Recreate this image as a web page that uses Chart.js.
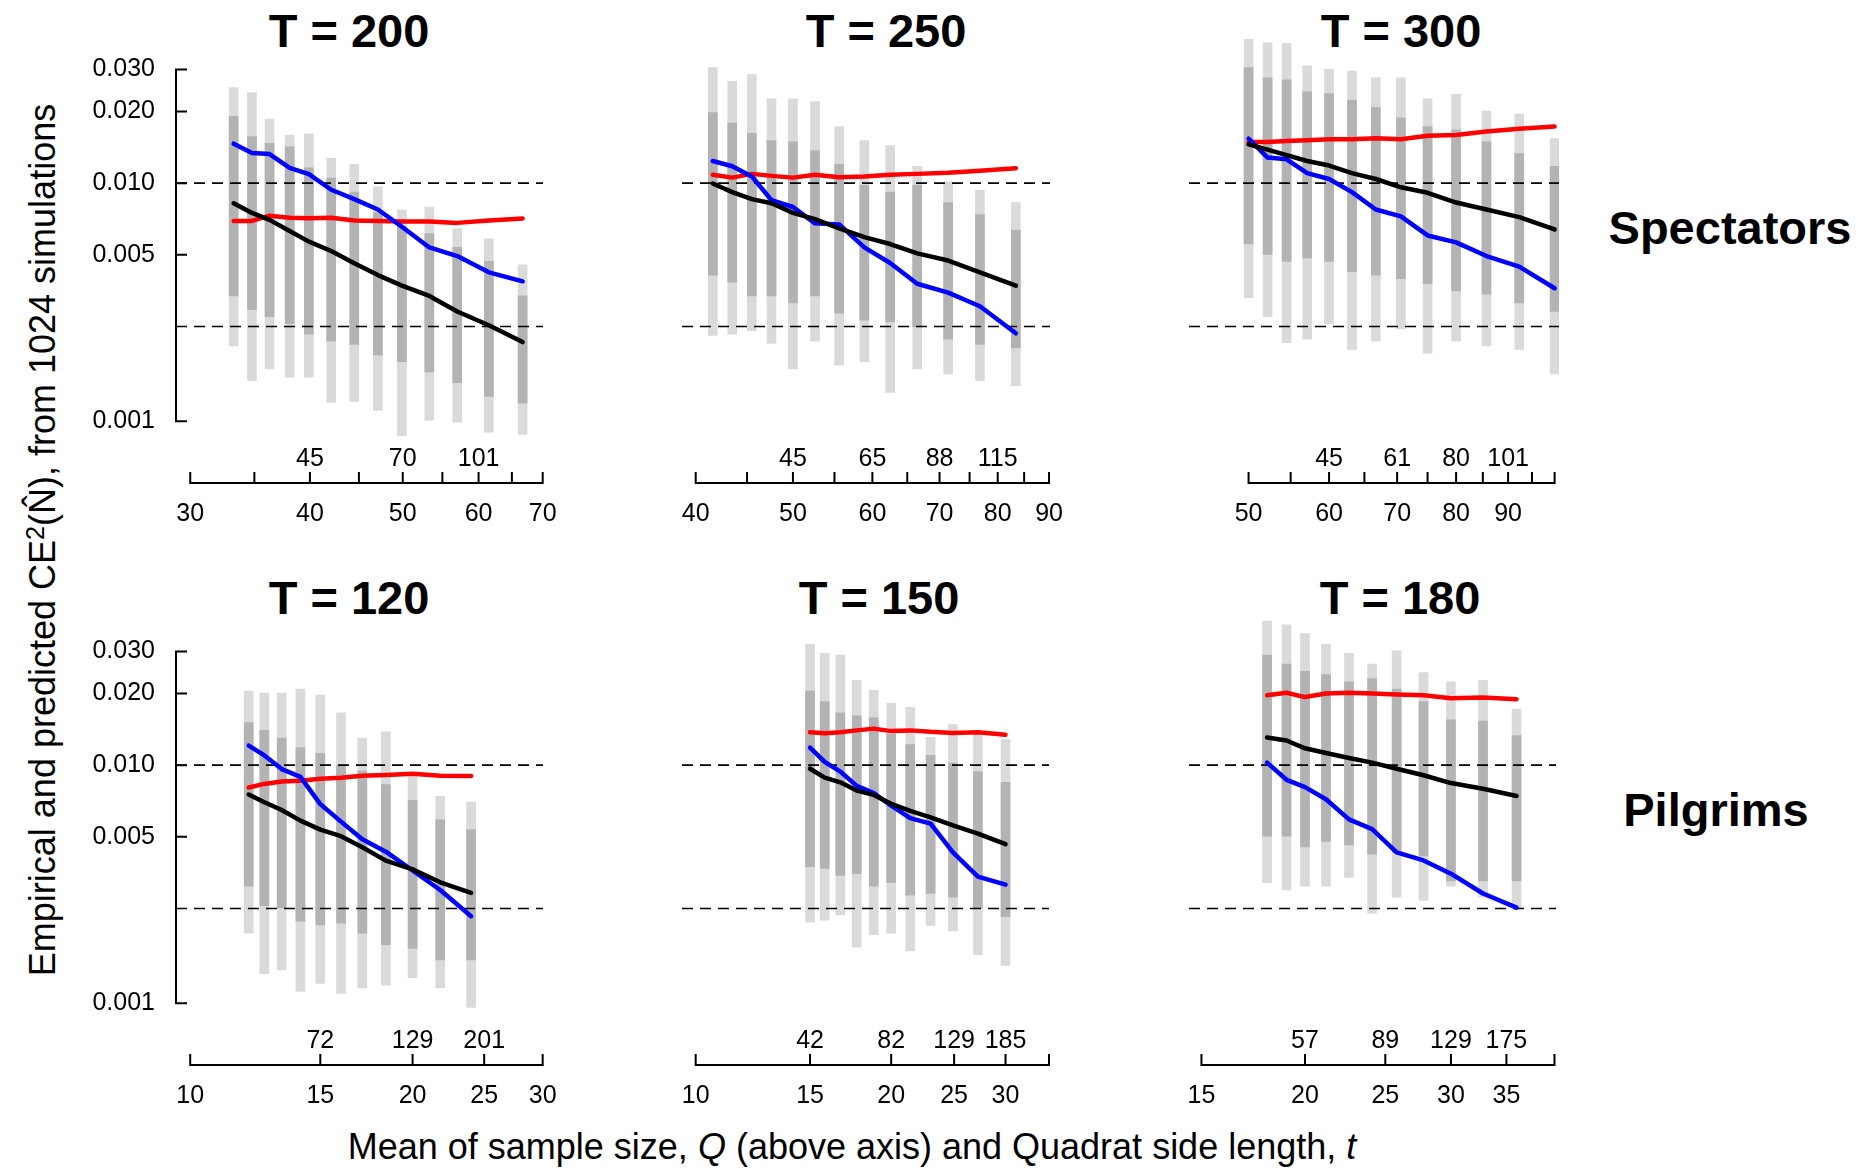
<!DOCTYPE html>
<html>
<head>
<meta charset="utf-8">
<title>Empirical and predicted CE2 - Spectators and Pilgrims</title>
<script src="https://cdn.jsdelivr.net/npm/chart.js@4.4.1/dist/chart.umd.min.js"></script>
<style>
  body { margin: 0; background: #fff; }
  #fig { position: relative; width: 1869px; height: 1170px; overflow: hidden;
         font-family: "Liberation Sans", Arial, sans-serif; color: #000; background: #fff; }
  #fig canvas { position: absolute; }
  .lbl { position: absolute; white-space: nowrap; line-height: 1; transform: translate(-50%, -50%); }
  .ttl { font-weight: bold; font-size: 47px; }
  .axt { font-size: 36px; }
  .sup { font-size: 0.7em; position: relative; top: -0.45em; }
</style>
</head>
<body>
<div id="fig">
  <div class="lbl ttl" style="left:349px; top:30px">T = 200</div>
  <div class="lbl ttl" style="left:886px; top:30px">T = 250</div>
  <div class="lbl ttl" style="left:1401px; top:30px">T = 300</div>
  <div class="lbl ttl" style="left:349px; top:597px">T = 120</div>
  <div class="lbl ttl" style="left:879px; top:597px">T = 150</div>
  <div class="lbl ttl" style="left:1400px; top:597px">T = 180</div>
  <div class="lbl ttl" style="left:1730px; top:227px">Spectators</div>
  <div class="lbl ttl" style="left:1716px; top:809px">Pilgrims</div>
  <div class="lbl axt" style="left:852px; top:1147px">Mean of sample size, <i>Q</i> (above axis) and Quadrat side length, <i>t</i></div>
  <div class="lbl axt" style="left:43px; top:540px; transform: translate(-50%, -50%) rotate(-90deg)">Empirical and predicted CE<span class="sup">2</span>(N&#770;), from 1024 simulations</div>
</div>

<script>
// ---- shared axis values ----
const yTicks = [0.001, 0.005, 0.010, 0.020, 0.030];
const yLim = [0.00055, 0.044];
const refLevels = [0.0025, 0.010];

// ---- T = 200 (Spectators) ----
const t200 = [33.3, 34.8, 36.3, 38.1, 39.9, 42.1, 44.5, 47.1, 49.9, 53.3, 57.0, 61.5, 66.7];
const blue200 = [0.01465, 0.01338, 0.01325, 0.01159, 0.01091, 0.00938, 0.00857, 0.00775, 0.00656, 0.00537, 0.00494, 0.00422, 0.00387];
const red200 = [0.00694, 0.00694, 0.0073, 0.00716, 0.00713, 0.00716, 0.00697, 0.00694, 0.0069, 0.0069, 0.00681, 0.00697, 0.00711];
const black200 = [0.00823, 0.0075, 0.00701, 0.0063, 0.00568, 0.00519, 0.00461, 0.00411, 0.00371, 0.00336, 0.00289, 0.00253, 0.00215];
const extHi200 = [0.0252, 0.0240, 0.0186, 0.0159, 0.0161, 0.0127, 0.0120, 0.00964, 0.0077, 0.00794, 0.00645, 0.00583, 0.00454];
const coreHi200 = [0.0191, 0.0157, 0.0147, 0.0142, 0.0116, 0.0105, 0.00917, 0.0075, 0.00656, 0.00614, 0.00537, 0.00469, 0.00336];
const coreLo200 = [0.00336, 0.00294, 0.00275, 0.00257, 0.00232, 0.00217, 0.0021, 0.0019, 0.00178, 0.00161, 0.00145, 0.00127, 0.00119];
const extLo200 = [0.00207, 0.00148, 0.00166, 0.00153, 0.00153, 0.0012, 0.00121, 0.00111, 0.00087, 0.00101, 0.00099, 0.0009, 0.00088];
const xLim200 = [28.99, 70.05];
const xTicks200 = [30, 35, 40, 45, 50, 55, 60, 65, 70];
const xLabels200 = [30, 40, 50, 60, 70];
const qAt200 = [40, 50, 60];
const q200 = ['45', '70', '101'];

// ---- T = 250 (Spectators) ----
const t250 = [41.6, 43.5, 45.5, 47.6, 50.0, 52.6, 55.6, 58.9, 62.5, 66.5, 71.4, 76.8, 83.4];
const blue250 = [0.01239, 0.01178, 0.01066, 0.00849, 0.00794, 0.00678, 0.00671, 0.00537, 0.00462, 0.00378, 0.00347, 0.00304, 0.00234];
const red250 = [0.01084, 0.01055, 0.01094, 0.01073, 0.01055, 0.01084, 0.01059, 0.01066, 0.01084, 0.01094, 0.01106, 0.01128, 0.01155];
const black250 = [0.00997, 0.00917, 0.00857, 0.00823, 0.0075, 0.00706, 0.00645, 0.00593, 0.00555, 0.00507, 0.00473, 0.00422, 0.00371];
const extHi250 = [0.0306, 0.0268, 0.0286, 0.0226, 0.0226, 0.0220, 0.0173, 0.0151, 0.0144, 0.01178, 0.01013, 0.00932, 0.00829];
const coreHi250 = [0.0198, 0.0179, 0.0162, 0.0151, 0.0149, 0.0137, 0.0120, 0.0098, 0.00917, 0.0098, 0.00829, 0.00738, 0.00635];
const coreLo250 = [0.00411, 0.00384, 0.00336, 0.00336, 0.00314, 0.00336, 0.00284, 0.00266, 0.00261, 0.00249, 0.00221, 0.0021, 0.00203];
const extLo250 = [0.00229, 0.00232, 0.0024, 0.00212, 0.00166, 0.00217, 0.00172, 0.00178, 0.00132, 0.00166, 0.00158, 0.00148, 0.00141];
const xLim250 = [38.76, 90.2];
const xTicks250 = [40, 45, 50, 55, 60, 65, 70, 75, 80, 85, 90];
const xLabels250 = [40, 50, 60, 70, 80, 90];
const qAt250 = [50, 60, 70, 80];
const q250 = ['45', '65', '88', '115'];

// ---- T = 300 (Spectators) ----
const t300 = [50.0, 52.2, 54.5, 57.1, 60.0, 63.2, 66.7, 70.6, 75.0, 80.0, 85.7, 92.3, 100.0];
const blue300 = [0.0154, 0.01281, 0.0126, 0.01102, 0.01041, 0.00917, 0.00775, 0.00725, 0.00603, 0.00564, 0.00494, 0.00446, 0.00362];
const red300 = [0.01489, 0.01489, 0.01504, 0.01514, 0.0153, 0.0153, 0.01545, 0.0153, 0.01582, 0.01592, 0.01647, 0.01691, 0.01731];
const black300 = [0.01455, 0.01384, 0.01311, 0.01239, 0.01186, 0.01102, 0.01041, 0.00961, 0.00911, 0.00829, 0.00775, 0.0072, 0.00639];
const extHi300 = [0.0402, 0.0389, 0.0387, 0.0311, 0.0301, 0.0296, 0.0277, 0.0277, 0.0226, 0.0236, 0.0201, 0.0195, 0.0154];
const coreHi300 = [0.0306, 0.0277, 0.0272, 0.0242, 0.0238, 0.0223, 0.0208, 0.0188, 0.0173, 0.0167, 0.0149, 0.0133, 0.01178];
const coreLo300 = [0.00555, 0.00502, 0.00469, 0.00485, 0.00469, 0.00425, 0.00411, 0.00397, 0.00378, 0.00353, 0.00342, 0.00314, 0.00289];
const extLo300 = [0.0033, 0.00275, 0.00214, 0.00221, 0.00257, 0.002, 0.00217, 0.00244, 0.00193, 0.00217, 0.00207, 0.002, 0.00158];
const xLim300 = [43.69, 101.0];
const xTicks300 = [50, 55, 60, 65, 70, 75, 80, 85, 90, 95, 100];
const xLabels300 = [50, 60, 70, 80, 90];
const qAt300 = [60, 70, 80, 90];
const q300 = ['45', '61', '80', '101'];

// ---- T = 120 (Pilgrims) ----
const t120 = [12.0, 12.6, 13.3, 14.1, 15.0, 16.0, 17.1, 18.4, 20.0, 21.8, 24.0];
const blue120 = [0.01208, 0.01099, 0.00963, 0.00893, 0.00686, 0.00579, 0.00488, 0.00433, 0.00361, 0.00299, 0.00232];
const red120 = [0.00806, 0.00834, 0.00853, 0.0086, 0.00876, 0.00886, 0.00903, 0.0091, 0.0092, 0.00903, 0.009];
const black120 = [0.00753, 0.00699, 0.00648, 0.00585, 0.00536, 0.00503, 0.00452, 0.00397, 0.00365, 0.00322, 0.00291];
const extHi120 = [0.0205, 0.0201, 0.0201, 0.0209, 0.0197, 0.0166, 0.0130, 0.0138, 0.00893, 0.00739, 0.00699];
const coreHi120 = [0.0151, 0.0140, 0.0130, 0.01185, 0.0112, 0.0100, 0.00945, 0.00828, 0.00712, 0.0059, 0.00536];
const coreLo120 = [0.0031, 0.00257, 0.00252, 0.00221, 0.00213, 0.00217, 0.00197, 0.00176, 0.0017, 0.00152, 0.00152];
const extLo120 = [0.00197, 0.00133, 0.00138, 0.00112, 0.00121, 0.0011, 0.00116, 0.00119, 0.00128, 0.00116, 0.00096];
const xLim120 = [9.567, 30.03];
const xTicks120 = [10, 15, 20, 25, 30];
const xLabels120 = [10, 15, 20, 25, 30];
const qAt120 = [15, 20, 25];
const q120 = ['72', '129', '201'];

// ---- T = 150 (Pilgrims) ----
const t150 = [15.0, 15.8, 16.7, 17.7, 18.8, 20.0, 21.4, 23.0, 24.9, 27.2, 30.0];
const blue150 = [0.01185, 0.01032, 0.0094, 0.00818, 0.00763, 0.00676, 0.00599, 0.00568, 0.0043, 0.0034, 0.00315];
const red150 = [0.01376, 0.01361, 0.01376, 0.014, 0.01424, 0.0139, 0.014, 0.0138, 0.01366, 0.01376, 0.01343];
const black150 = [0.00966, 0.00886, 0.00847, 0.00782, 0.0075, 0.00688, 0.00642, 0.00603, 0.00558, 0.00516, 0.00466];
const extHi150 = [0.0322, 0.0295, 0.0290, 0.0227, 0.0206, 0.0182, 0.0175, 0.0131, 0.0148, 0.0135, 0.0128];
const coreHi150 = [0.0205, 0.0185, 0.0166, 0.0161, 0.0158, 0.0135, 0.0122, 0.0110, 0.0102, 0.0094, 0.00847];
const coreLo150 = [0.00375, 0.00368, 0.00344, 0.0035, 0.0031, 0.00321, 0.00284, 0.00289, 0.00279, 0.00252, 0.00231];
const extLo150 = [0.00219, 0.00223, 0.00235, 0.00172, 0.00194, 0.00197, 0.00166, 0.00212, 0.00201, 0.0016, 0.00144];
const xLim150 = [9.526, 35.0];
const xTicks150 = [10, 15, 20, 25, 30, 35];
const xLabels150 = [10, 15, 20, 25, 30];
const qAt150 = [15, 20, 25, 30];
const q150 = ['42', '82', '129', '185'];

// ---- T = 180 (Pilgrims) ----
const t180 = [18.0, 19.0, 20.0, 21.2, 22.6, 24.1, 25.8, 27.8, 30.0, 32.8, 36.0];
const blue180 = [0.01025, 0.00868, 0.00809, 0.00719, 0.00592, 0.00539, 0.0043, 0.00398, 0.0035, 0.00289, 0.00252];
const red180 = [0.01966, 0.02015, 0.01932, 0.02001, 0.02015, 0.02001, 0.0198, 0.01966, 0.01912, 0.01926, 0.01893];
const black180 = [0.01306, 0.0127, 0.01177, 0.01125, 0.01072, 0.01025, 0.00966, 0.00907, 0.00841, 0.00796, 0.00742];
const extHi180 = [0.0403, 0.0389, 0.0357, 0.0322, 0.0295, 0.0266, 0.0302, 0.0245, 0.0224, 0.0227, 0.0172];
const coreHi180 = [0.0290, 0.0266, 0.0248, 0.0240, 0.0224, 0.0231, 0.0209, 0.0185, 0.0155, 0.0153, 0.0133];
const coreLo180 = [0.00503, 0.00503, 0.00453, 0.00478, 0.00462, 0.00423, 0.0043, 0.00416, 0.00326, 0.00326, 0.00326];
const extLo180 = [0.00321, 0.00299, 0.0031, 0.0031, 0.00338, 0.00239, 0.00279, 0.0027, 0.0031, 0.00279, 0.00252];
const xLim180 = [14.49, 40.17];
const xTicks180 = [15, 20, 25, 30, 35, 40];
const xLabels180 = [15, 20, 25, 30, 35];
const qAt180 = [20, 25, 30, 35];
const q180 = ['57', '89', '129', '175'];

// plot region of each panel on the page: [left, right, top, bottom]
const boxes = {
  200: [176, 543, 30, 483],
  250: [682, 1050, 30, 483],
  300: [1189, 1559, 30, 483],
  120: [176, 543, 612, 1065],
  150: [682, 1049, 612, 1065],
  180: [1189, 1556, 612, 1065]
};

const panels = [
  { T: 200, t: t200, red: red200, blue: blue200, black: black200, extLo: extLo200, extHi: extHi200, coreLo: coreLo200, coreHi: coreHi200,
    xLim: xLim200, xTicks: xTicks200, xLabels: xLabels200, qAt: qAt200, q: q200, yAxis: true },
  { T: 250, t: t250, red: red250, blue: blue250, black: black250, extLo: extLo250, extHi: extHi250, coreLo: coreLo250, coreHi: coreHi250,
    xLim: xLim250, xTicks: xTicks250, xLabels: xLabels250, qAt: qAt250, q: q250, yAxis: false },
  { T: 300, t: t300, red: red300, blue: blue300, black: black300, extLo: extLo300, extHi: extHi300, coreLo: coreLo300, coreHi: coreHi300,
    xLim: xLim300, xTicks: xTicks300, xLabels: xLabels300, qAt: qAt300, q: q300, yAxis: false },
  { T: 120, t: t120, red: red120, blue: blue120, black: black120, extLo: extLo120, extHi: extHi120, coreLo: coreLo120, coreHi: coreHi120,
    xLim: xLim120, xTicks: xTicks120, xLabels: xLabels120, qAt: qAt120, q: q120, yAxis: true },
  { T: 150, t: t150, red: red150, blue: blue150, black: black150, extLo: extLo150, extHi: extHi150, coreLo: coreLo150, coreHi: coreHi150,
    xLim: xLim150, xTicks: xTicks150, xLabels: xLabels150, qAt: qAt150, q: q150, yAxis: false },
  { T: 180, t: t180, red: red180, blue: blue180, black: black180, extLo: extLo180, extHi: extHi180, coreLo: coreLo180, coreHi: coreHi180,
    xLim: xLim180, xTicks: xTicks180, xLabels: xLabels180, qAt: qAt180, q: q180, yAxis: false }
];

Chart.defaults.font.family = '"Liberation Sans", Arial, sans-serif';
Chart.defaults.font.size = 25;
Chart.defaults.color = '#000';

// R style axes: x axis line only between first and last tick, ticks pointing up,
// Q values written above; y axis line from 0.001 to 0.030 with inward ticks
const rAxes = {
  id: 'rAxes',
  afterDatasetsDraw(chart, args, opts) {
    const ctx = chart.ctx;
    const xs = chart.scales.x;
    const ys = chart.scales.y;
    const area = chart.chartArea;
    const tick = 10;
    ctx.save();
    ctx.strokeStyle = '#000';
    ctx.fillStyle = '#000';
    ctx.lineWidth = 2;
    ctx.lineCap = 'square';

    const y0 = area.bottom;
    const xa = xs.getPixelForValue(opts.ticks[0]);
    const xb = xs.getPixelForValue(opts.ticks[opts.ticks.length - 1]);
    ctx.beginPath();
    ctx.moveTo(xa, y0);
    ctx.lineTo(xb, y0);
    opts.ticks.forEach(function (v) {
      const x = xs.getPixelForValue(v);
      ctx.moveTo(x, y0);
      ctx.lineTo(x, y0 - tick);
    });
    ctx.stroke();

    ctx.font = '25px "Liberation Sans", Arial, sans-serif';
    ctx.textAlign = 'center';
    ctx.textBaseline = 'middle';
    opts.qAt.forEach(function (v, i) {
      ctx.fillText(opts.q[i], xs.getPixelForValue(v), y0 - 24);
    });

    if (opts.yAxis) {
      const x0 = area.left;
      const ya = ys.getPixelForValue(opts.yTicks[0]);
      const yb = ys.getPixelForValue(opts.yTicks[opts.yTicks.length - 1]);
      ctx.beginPath();
      ctx.moveTo(x0, ya);
      ctx.lineTo(x0, yb);
      opts.yTicks.forEach(function (v) {
        const y = ys.getPixelForValue(v);
        ctx.moveTo(x0, y);
        ctx.lineTo(x0 + tick, y);
      });
      ctx.stroke();
    }
    ctx.restore();
  }
};
Chart.register(rAxes);

function lineSet(xv, yv, color, order) {
  return {
    type: 'line',
    data: xv.map(function (x, i) { return { x: x, y: yv[i] }; }),
    borderColor: color,
    borderWidth: 4.5,
    pointRadius: 0,
    tension: 0,
    borderJoinStyle: 'round',
    borderCapStyle: 'round',
    order: order
  };
}

function refSet(xLim, level) {
  return {
    type: 'line',
    data: [{ x: xLim[0], y: level }, { x: xLim[1], y: level }],
    borderColor: '#000',
    borderWidth: 1.6,
    borderDash: [11, 7],
    pointRadius: 0,
    order: 3
  };
}

function barSet(xv, lo, hi, color, thick, order) {
  return {
    type: 'bar',
    data: xv.map(function (x, i) { return { x: x, y: [lo[i], hi[i]] }; }),
    backgroundColor: color,
    borderWidth: 0,
    barThickness: thick,
    grouped: false,
    order: order
  };
}

const fig = document.getElementById('fig');

panels.forEach(function (p) {
  const box = boxes[p.T];
  const L = box[0], R = box[1], T = box[2], B = box[3];
  const padT = 40, padB = 10, padR = 40, axisH = 60;
  const padL = p.yAxis ? 0 : 40;
  const left = p.yAxis ? 0 : L - padL;
  const width = R - left + padR;
  const height = padT + (B - T) + axisH + padB;

  const cv = document.createElement('canvas');
  cv.width = width;
  cv.height = height;
  cv.style.left = left + 'px';
  cv.style.top = (T - padT) + 'px';
  cv.style.width = width + 'px';
  cv.style.height = height + 'px';
  fig.appendChild(cv);

  new Chart(cv, {
    type: 'bar',
    data: {
      datasets: [
        lineSet(p.t, p.black, '#000000', 0),
        lineSet(p.t, p.blue, '#0000ff', 1),
        lineSet(p.t, p.red, '#ff0000', 2),
        refSet(p.xLim, refLevels[0]),
        refSet(p.xLim, refLevels[1]),
        barSet(p.t, p.coreLo, p.coreHi, '#b3b3b3', 9, 5),
        barSet(p.t, p.extLo, p.extHi, '#dadada', 9, 6)
      ]
    },
    options: {
      responsive: false,
      animation: false,
      events: [],
      layout: { padding: { top: padT, bottom: padB, left: padL, right: padR } },
      plugins: {
        legend: { display: false },
        tooltip: { enabled: false },
        rAxes: { ticks: p.xTicks, qAt: p.qAt, q: p.q, yAxis: p.yAxis, yTicks: yTicks }
      },
      scales: {
        x: {
          type: 'logarithmic',
          min: p.xLim[0],
          max: p.xLim[1],
          bounds: 'data',
          offset: false,
          grid: { display: false, drawTicks: false },
          border: { display: false },
          afterBuildTicks: function (s) { s.ticks = p.xTicks.map(function (v) { return { value: v }; }); },
          afterFit: function (s) { s.height = axisH; s.paddingLeft = 0; s.paddingRight = 0; },
          ticks: {
            autoSkip: false,
            maxRotation: 0,
            padding: 16,
            callback: function (v) { return p.xLabels.indexOf(v) >= 0 ? String(v) : ''; }
          }
        },
        y: {
          type: 'logarithmic',
          display: p.yAxis,
          min: yLim[0],
          max: yLim[1],
          bounds: 'data',
          grid: { display: false, drawTicks: false },
          border: { display: false },
          afterBuildTicks: function (s) { s.ticks = yTicks.map(function (v) { return { value: v }; }); },
          afterFit: function (s) { s.width = p.yAxis ? L : 0; s.paddingTop = 0; s.paddingBottom = 0; },
          ticks: {
            padding: 21,
            callback: function (v) { return Number(v).toFixed(3); }
          }
        }
      }
    }
  });
});
</script>
</body>
</html>
